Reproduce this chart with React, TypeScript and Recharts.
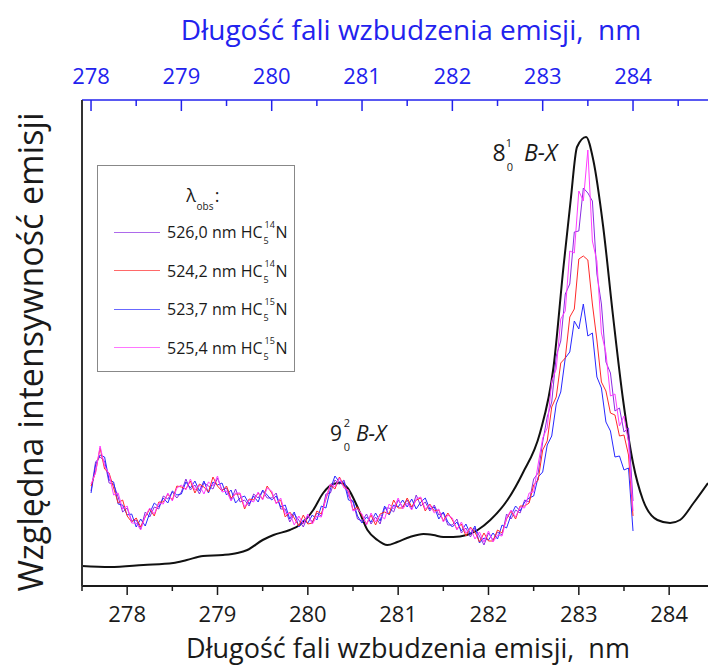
import React from "react";
import { LineChart, Line, XAxis, YAxis } from "recharts";

// excitation wavelength grid of the emission traces (nm, bottom axis)
const wavelengths = [
  277.6, 277.65, 277.7, 277.75, 277.8, 277.85, 277.9, 277.95, 278, 278.05, 278.1, 278.15, 278.2, 278.25, 278.3, 278.35, 278.4, 278.45, 278.5, 278.55,
  278.6, 278.65, 278.7, 278.75, 278.8, 278.85, 278.9, 278.95, 279, 279.05, 279.1, 279.15, 279.2, 279.25, 279.3, 279.35, 279.4, 279.45, 279.5, 279.55,
  279.6, 279.65, 279.7, 279.75, 279.8, 279.85, 279.9, 279.95, 280, 280.05, 280.1, 280.15, 280.2, 280.25, 280.3, 280.35, 280.4, 280.45, 280.5, 280.55,
  280.6, 280.65, 280.7, 280.75, 280.8, 280.85, 280.9, 280.95, 281, 281.05, 281.1, 281.15, 281.2, 281.25, 281.3, 281.35, 281.4, 281.45, 281.5, 281.55,
  281.6, 281.65, 281.7, 281.75, 281.8, 281.85, 281.9, 281.95, 282, 282.05, 282.1, 282.15, 282.2, 282.25, 282.3, 282.35, 282.4, 282.45, 282.5, 282.55,
  282.6, 282.65, 282.7, 282.75, 282.8, 282.85, 282.9, 282.95, 283, 283.05, 283.1, 283.15, 283.2, 283.25, 283.3, 283.35, 283.4, 283.45, 283.5, 283.55, 283.6,
];

// 526,0 nm HC5 14N
const purple = [
  95, 124, 129, 125, 103, 102, 89, 74, 78, 65, 66, 57, 74, 69, 79, 77, 90, 87, 94, 88,
  94, 107, 96, 101, 92, 103, 100, 97, 108, 96, 98, 86, 97, 84, 86, 80, 92, 88, 95, 88,
  88, 93, 77, 77, 64, 72, 66, 59, 70, 64, 73, 70, 92, 93, 106, 102, 106, 90, 84, 67,
  65, 72, 62, 69, 62, 78, 78, 74, 86, 79, 86, 77, 91, 80, 84, 75, 81, 71, 73, 61,
  61, 67, 53, 58, 49, 58, 50, 41, 53, 46, 54, 51, 72, 67, 76, 73, 86, 84, 107, 113,
  144, 169, 184, 230, 245, 292, 302, 354, 355, 398, 393, 385, 312, 282, 224, 213, 175, 178, 154, 158, 85,
];
// 524,2 nm HC5 14N
const red = [
  100, 114, 138, 117, 113, 98, 83, 86, 70, 64, 68, 59, 69, 77, 70, 84, 84, 92, 86, 100,
  99, 97, 105, 93, 102, 99, 94, 109, 100, 95, 100, 88, 92, 92, 77, 87, 86, 93, 87, 100,
  93, 83, 86, 69, 74, 68, 60, 71, 62, 63, 75, 72, 87, 101, 97, 109, 100, 95, 76, 79,
  70, 62, 71, 61, 72, 74, 72, 86, 78, 78, 88, 79, 86, 88, 75, 82, 75, 76, 65, 73,
  66, 57, 62, 50, 59, 54, 44, 53, 45, 45, 56, 53, 67, 75, 67, 80, 80, 83, 101, 106,
  136, 145, 179, 189, 223, 228, 269, 277, 327, 330, 326, 282, 246, 204, 195, 173, 171, 150, 151, 131, 70,
];
// 523,7 nm HC5 15N
const blue = [
  93, 121, 131, 129, 106, 104, 82, 81, 71, 72, 59, 67, 60, 73, 83, 79, 88, 83, 95, 91,
  92, 104, 98, 105, 95, 105, 93, 104, 101, 103, 91, 96, 83, 88, 90, 82, 90, 84, 96, 91,
  86, 90, 79, 81, 67, 74, 59, 66, 63, 71, 66, 80, 78, 97, 110, 104, 104, 86, 85, 70,
  63, 69, 64, 73, 65, 80, 71, 81, 79, 86, 79, 87, 77, 84, 88, 77, 79, 67, 74, 64,
  59, 64, 55, 62, 52, 60, 43, 48, 46, 53, 47, 61, 58, 71, 80, 75, 84, 88, 90, 109,
  114, 141, 150, 182, 194, 228, 234, 265, 257, 282, 250, 253, 209, 198, 164, 155, 129, 130, 116, 118, 55,
];
// 525,4 nm HC5 15N
const magenta = [
  102, 113, 140, 120, 112, 91, 93, 77, 80, 63, 63, 56, 70, 78, 72, 83, 82, 93, 85, 98,
  101, 96, 107, 96, 101, 92, 104, 100, 110, 94, 95, 85, 93, 93, 79, 86, 84, 94, 86, 98,
  95, 82, 88, 72, 73, 61, 70, 62, 72, 62, 70, 69, 88, 102, 99, 108, 98, 96, 75, 77,
  72, 61, 73, 64, 71, 67, 82, 77, 88, 77, 83, 76, 87, 89, 77, 81, 73, 77, 64, 71,
  68, 56, 64, 53, 58, 47, 54, 44, 55, 44, 51, 50, 68, 76, 69, 79, 78, 93, 94, 122,
  148, 158, 205, 217, 267, 275, 335, 333, 395, 385, 436, 345, 325, 253, 233, 190, 192, 160, 170, 144, 75,
];

// excitation spectrum (black)
const excX = [
  277.5, 277.81, 278.18, 278.51, 278.66, 278.84, 279.06, 279.22, 279.33, 279.5,
  279.62, 279.8, 279.91, 280.06, 280.17, 280.28, 280.36, 280.44, 280.55, 280.66,
  280.77, 280.88, 280.99, 281.13, 281.28, 281.39, 281.5, 281.61, 281.76, 281.88,
  282.02, 282.21, 282.38, 282.57, 282.72, 282.83, 282.91, 282.98, 283.08, 283.16,
  283.27, 283.38, 283.49, 283.6, 283.71, 283.87, 284.01, 284.12, 284.27, 284.43,
];
const excY = [
  20, 19, 21, 23, 26, 30, 31, 33, 36, 46,
  51, 56, 61, 76, 93, 102, 103, 98, 79, 56,
  46, 41, 44, 49, 52, 51, 49, 49, 51, 56,
  66, 86, 113, 153, 219, 319, 386, 439, 449, 426,
  359, 269, 186, 123, 86, 66, 63, 66, 83, 103,
];

const bottomTicks = [277.5, 278, 278.5, 279, 279.5, 280, 280.5, 281, 281.5, 282, 282.5, 283, 283.5, 284];
const topTicks = [278, 278.5, 279, 279.5, 280, 280.5, 281, 281.5, 282, 282.5, 283, 283.5, 284, 284.5];

const legendItems = [
  { label: "526,0 nm", iso: "14", color: "#8a2be2" },
  { label: "524,2 nm", iso: "14", color: "#ff2a2a" },
  { label: "523,7 nm", iso: "15", color: "#2828ff" },
  { label: "525,4 nm", iso: "15", color: "#ff3cff" },
];

const emission = wavelengths.map((x, i) => ({
  x,
  p: purple[i],
  r: red[i],
  b: blue[i],
  m: magenta[i],
}));
const excitation = excX.map((x, i) => ({ x, y: excY[i] }));

const INK = "#1a1a1a";
const BLUE = "#2222ee";
const FONT = "'Open Sans', sans-serif";

const BottomTick = (props: any) => {
  const { x, y, payload } = props;
  const major = Number.isInteger(payload.value);
  return (
    <g>
      <line x1={x} x2={x} y1={y} y2={y + (major ? 9 : 5)} stroke={INK} strokeWidth={1.5} />
      {major && (
        <text x={x} y={y + 27} textAnchor="middle" dominantBaseline="central" fontSize={22} fill={INK} fontFamily={FONT}>
          {payload.value}
        </text>
      )}
    </g>
  );
};

const TopTick = (props: any) => {
  const { x, y, payload } = props;
  const major = Number.isInteger(payload.value);
  return (
    <g>
      <line x1={x} x2={x} y1={y} y2={y + (major ? 11 : 6)} stroke={BLUE} strokeWidth={1.5} />
      {major && (
        <text x={x} y={y - 25} textAnchor="middle" dominantBaseline="central" fontSize={22} fill={BLUE} fontFamily={FONT}>
          {payload.value}
        </text>
      )}
    </g>
  );
};

function Txt({ x, y, size, children, italic, left, color }: any) {
  return (
    <div
      style={{
        position: "absolute",
        left: x,
        top: y,
        transform: left ? "translate(0,-50%)" : "translate(-50%,-50%)",
        fontSize: size,
        fontStyle: italic ? "italic" : "normal",
        color: color || INK,
        whiteSpace: "pre",
        lineHeight: 1,
      }}
    >
      {children}
    </div>
  );
}

function LegendRow({ y, item }: any) {
  return (
    <div style={{ position: "absolute", left: 114, top: y - 12, height: 24, display: "flex", alignItems: "center", whiteSpace: "pre", color: INK }}>
      <span style={{ display: "inline-block", width: 46, height: 0, borderTop: `1px solid ${item.color}`, opacity: 0.7, marginRight: 7 }} />
      <span style={{ fontSize: 16 }}>{item.label} HC</span>
      <span style={{ position: "relative", display: "inline-block", width: 13, height: 24 }}>
        <span style={{ position: "absolute", left: 1, top: 16, fontSize: 9, lineHeight: 1 }}>5</span>
        <span style={{ position: "absolute", left: 2, top: 0, fontSize: 9, lineHeight: 1 }}>{item.iso}</span>
      </span>
      <span style={{ fontSize: 16 }}>N</span>
    </div>
  );
}

export default function App() {
  return (
    <div style={{ position: "absolute", left: 0, top: 0, width: 708, height: 669, fontFamily: FONT, background: "#fff" }}>
      <LineChart width={708} height={669} data={emission} margin={{ top: 70, right: 0, bottom: 53, left: 72 }}>
        <XAxis
          dataKey="x"
          type="number"
          domain={[277.5, 284.43]}
          allowDataOverflow
          ticks={bottomTicks}
          interval={0}
          height={30}
          tickSize={0}
          tickMargin={0}
          tickLine={false}
          tick={(p: any) => <BottomTick {...p} />}
          axisLine={{ stroke: INK, strokeWidth: 2 }}
        />
        <XAxis
          xAxisId="top"
          dataKey="x"
          orientation="top"
          type="number"
          domain={[277.9, 284.83]}
          allowDataOverflow
          ticks={topTicks}
          interval={0}
          height={30}
          tickSize={0}
          tickMargin={0}
          tickLine={false}
          tick={(p: any) => <TopTick {...p} />}
          axisLine={{ stroke: BLUE, strokeWidth: 1.5 }}
        />
        <YAxis
          type="number"
          domain={[0, 486]}
          allowDataOverflow
          width={10}
          tick={false}
          tickLine={false}
          axisLine={{ stroke: "#333", strokeWidth: 2 }}
        />
        <Line data={excitation} dataKey="y" type="monotone" stroke="#111" strokeWidth={2} dot={false} isAnimationActive={false} />
        <Line dataKey="p" type="linear" stroke="#8a2be2" strokeWidth={1} dot={false} isAnimationActive={false} />
        <Line dataKey="b" type="linear" stroke="#2828ff" strokeWidth={1} dot={false} isAnimationActive={false} />
        <Line dataKey="r" type="linear" stroke="#ff2a2a" strokeWidth={1} dot={false} isAnimationActive={false} />
        <Line dataKey="m" type="linear" stroke="#ff3cff" strokeWidth={1} dot={false} isAnimationActive={false} />
      </LineChart>

      <Txt x={411} y={29} size={28} color={BLUE}>Długość fali wzbudzenia emisji,  nm</Txt>
      <Txt x={408} y={647} size={27}>Długość fali wzbudzenia emisji,  nm</Txt>
      <div
        style={{
          position: "absolute",
          left: 30,
          top: 352,
          transform: "translate(-50%,-50%) rotate(-90deg)",
          fontSize: 34,
          color: INK,
          whiteSpace: "pre",
          lineHeight: 1,
        }}
      >
        Względna intensywność emisji
      </div>

      {/* band labels */}
      <Txt x={499} y={152} size={23}>8</Txt>
      <Txt x={509} y={142} size={11}>1</Txt>
      <Txt x={510} y={166} size={11}>0</Txt>
      <Txt x={524} y={152} size={23} italic left>B-X</Txt>
      <Txt x={336} y={433} size={21}>9</Txt>
      <Txt x={347} y={422} size={11}>2</Txt>
      <Txt x={347} y={446} size={11}>0</Txt>
      <Txt x={356} y={433} size={21} italic left>B-X</Txt>

      {/* legend */}
      <div style={{ position: "absolute", left: 97, top: 165, width: 198, height: 207, border: "1.5px solid #888", boxSizing: "border-box", background: "#fff" }} />
      <Txt x={191} y={195} size={18}>λ</Txt>
      <Txt x={205} y={206} size={10}>obs</Txt>
      <Txt x={217} y={195} size={18}>:</Txt>
      {legendItems.map((item, i) => (
        <LegendRow key={item.label} y={232 + i * 38.5} item={item} />
      ))}
    </div>
  );
}
